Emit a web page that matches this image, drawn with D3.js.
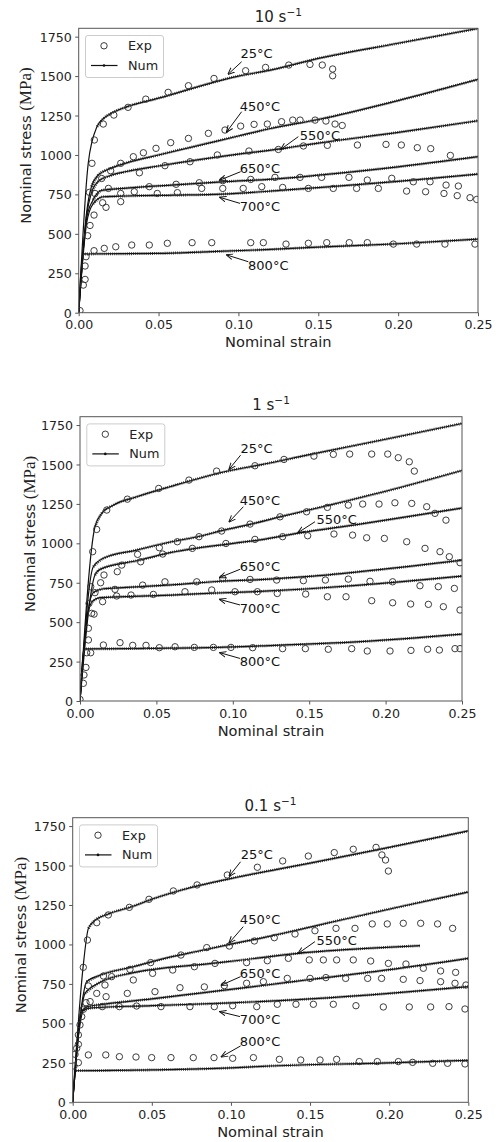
<!DOCTYPE html>
<html><head><meta charset="utf-8">
<script src="https://cdn.jsdelivr.net/npm/d3@7"></script>
<style>body{margin:0;background:#fff} svg{display:block}</style>
</head><body>
<script>
// ---------- categories / ticks ----------
const temps = ["25°C","450°C","550°C","650°C","700°C","800°C"];
const rateLabels = ["10","1","0.1"];
const strainTicks = [0,0.05,0.10,0.15,0.20,0.25];
const stressTicks = [0,250,500,750,1000,1250,1500,1750];

// ---------- 10 s^-1 : numerical ----------
const n10_25  = [[0,0],[0.006,950],[0.0115,1180],[0.016,1235],[0.02,1262],[0.03,1305],[0.05,1360],[0.1,1500],[0.12,1538],[0.15,1612],[0.2,1708],[0.25,1802]];
const n10_450 = [[0,0],[0.005,640],[0.008,800],[0.012,870],[0.02,915],[0.03,950],[0.05,1000],[0.1,1120],[0.12,1168],[0.15,1225],[0.2,1345],[0.25,1479]];
const n10_550 = [[0,0],[0.005,620],[0.008,760],[0.012,830],[0.02,870],[0.03,895],[0.05,930],[0.1,1005],[0.125,1037],[0.15,1075],[0.2,1143],[0.25,1217]];
const n10_650 = [[0,0],[0.005,600],[0.009,715],[0.0144,775],[0.03,790],[0.06,810],[0.09,830],[0.126,850],[0.15,872],[0.2,925],[0.25,989]];
const n10_700 = [[0,0],[0.005,570],[0.009,690],[0.0154,735],[0.03,740],[0.06,745],[0.09,752],[0.126,775],[0.15,793],[0.2,833],[0.25,879]];
const n10_800 = [[0,0],[0.0025,372],[0.05,376],[0.08,386],[0.12,401],[0.15,416],[0.2,437],[0.25,467]];
// ---------- 10 s^-1 : experimental ----------
const e10_25  = [[0.0083,947],[0.0098,1095],[0.0154,1196],[0.022,1253],[0.0309,1302],[0.042,1354],[0.056,1397],[0.0687,1439],[0.0847,1485],[0.1045,1534],[0.117,1555],[0.1315,1570],[0.1448,1574],[0.1525,1570],[0.159,1545],[0.159,1502]];
const e10_450 = [[0.0144,851],[0.02,900],[0.0263,947],[0.0342,989],[0.0405,1014],[0.0484,1042],[0.0576,1078],[0.0687,1105],[0.0812,1137],[0.0916,1158],[0.1014,1183],[0.1098,1194],[0.1181,1196],[0.127,1211],[0.134,1221],[0.1386,1221],[0.148,1221],[0.1548,1215],[0.1605,1196],[0.165,1187]];
const e10_550 = [[0.0186,788],[0.038,887],[0.054,932],[0.0697,957],[0.0868,1000],[0.1066,1025],[0.125,1035],[0.1407,1057],[0.1557,1061],[0.1745,1063],[0.1924,1067],[0.202,1063],[0.212,1046],[0.2204,1040],[0.2327,997]];
const e10_650 = [[0.0067,763],[0.0102,756],[0.0263,756],[0.0348,767],[0.0442,799],[0.061,814],[0.0755,824],[0.0902,837],[0.1077,845],[0.1229,858],[0.1386,858],[0.1521,858],[0.1692,858],[0.1807,841],[0.196,852],[0.2095,830],[0.22,830],[0.23,809],[0.2377,803]];
const e10_700 = [[0.0056,488],[0.0071,553],[0.0096,619],[0.015,697],[0.0171,668],[0.0263,704],[0.0492,756],[0.0618,761],[0.077,788],[0.0902,788],[0.103,788],[0.1146,799],[0.1277,794],[0.1438,788],[0.1594,788],[0.174,788],[0.1876,788],[0.2053,771],[0.2172,767],[0.2287,756],[0.237,742],[0.245,729],[0.2492,718]];
const e10_800 = [[0.0008,13],[0.0029,175],[0.004,211],[0.004,296],[0.0046,355],[0.0096,393],[0.016,408],[0.0232,418],[0.0332,429],[0.0442,429],[0.0555,440],[0.071,444],[0.0833,444],[0.1077,444],[0.1156,444],[0.1298,435],[0.1438,440],[0.1553,444],[0.1694,444],[0.1807,444],[0.197,435],[0.2116,435],[0.2293,435],[0.2481,435]];
// label anchors: [textStrain, textStress, tailStrain, tailStress, headStrain, headStress]
const a10 = [[0.1114,1644,0.102,1591,0.0937,1513],[0.1135,1310,0.102,1274,0.0927,1147],[0.151,1126,0.1375,1116,0.1267,1037],[0.1135,915,0.1014,894,0.0885,841],[0.1135,672,0.101,693,0.0885,731],[0.1187,302,0.1062,323,0.0927,366]];

// ---------- 1 s^-1 : numerical ----------
const n1_25  = [[0,0],[0.0098,1105],[0.0142,1190],[0.0218,1242],[0.0371,1295],[0.0589,1359],[0.0977,1460],[0.1178,1497],[0.15,1562],[0.2,1660],[0.25,1760]];
const n1_450 = [[0,0],[0.0087,851],[0.0153,905],[0.0371,957],[0.06,1010],[0.0785,1045],[0.0927,1080],[0.1113,1120],[0.1309,1168],[0.1614,1238],[0.2,1330],[0.25,1462]];
const n1_550 = [[0,0],[0.0098,799],[0.0131,835],[0.0393,894],[0.0567,936],[0.1003,1000],[0.1178,1022],[0.1429,1065],[0.1832,1122],[0.25,1224]];
const n1_650 = [[0,0],[0.005,560],[0.009,690],[0.0153,712],[0.03,720],[0.06,737],[0.09,758],[0.1178,770],[0.15,790],[0.1832,820],[0.25,893]];
const n1_700 = [[0,0],[0.005,540],[0.008,630],[0.0131,655],[0.03,662],[0.06,672],[0.09,685],[0.1178,695],[0.15,712],[0.1832,735],[0.25,792]];
const n1_800 = [[0,0],[0.0025,330],[0.05,334],[0.09,340],[0.1178,349],[0.1832,376],[0.25,424]];
// ---------- 1 s^-1 : experimental ----------
const e1_25  = [[0.0083,947],[0.0109,1088],[0.0175,1211],[0.031,1280],[0.0515,1348],[0.0713,1401],[0.0894,1458],[0.1145,1492],[0.1335,1532],[0.1531,1553],[0.1658,1564],[0.1765,1566],[0.1909,1566],[0.2014,1566],[0.2083,1543],[0.2155,1517],[0.2188,1458]];
const e1_450 = [[0.0244,820],[0.0377,930],[0.0519,972],[0.0637,1010],[0.0779,1042],[0.0927,1078],[0.1113,1122],[0.1309,1168],[0.1483,1200],[0.1619,1228],[0.1756,1242],[0.185,1249],[0.1957,1249],[0.2061,1257],[0.2171,1253],[0.2269,1232],[0.2323,1190],[0.2395,1147]];
const e1_550 = [[0.0157,799],[0.0273,862],[0.0397,883],[0.0541,932],[0.0735,968],[0.0955,999],[0.1145,1025],[0.1326,1042],[0.149,1048],[0.1662,1059],[0.1784,1052],[0.1876,1035],[0.1992,1031],[0.2138,1010],[0.2258,968],[0.2356,947],[0.2417,915],[0.2487,877]];
const e1_650 = [[0.007,725],[0.0135,750],[0.0229,708],[0.041,735],[0.0556,756],[0.0764,756],[0.0934,778],[0.1113,771],[0.1287,767],[0.1462,763],[0.1606,767],[0.1756,773],[0.1898,759],[0.2046,756],[0.2225,731],[0.2345,725],[0.245,714]];
const e1_700 = [[0.0055,461],[0.0059,619],[0.0076,556],[0.0092,551],[0.0098,687],[0.0148,630],[0.024,666],[0.0334,672],[0.048,676],[0.0687,693],[0.0862,704],[0.1014,693],[0.1161,693],[0.1291,682],[0.1477,678],[0.1619,661],[0.1741,661],[0.1909,636],[0.2046,623],[0.2164,615],[0.228,613],[0.2378,598],[0.2487,577]];
const e1_800 = [[0,10],[0.0022,112],[0.0026,165],[0.0039,213],[0.0044,306],[0.0055,387],[0.007,306],[0.0153,355],[0.0262,370],[0.0345,353],[0.0432,353],[0.0519,338],[0.0622,344],[0.0748,340],[0.0873,340],[0.0988,340],[0.113,338],[0.1326,332],[0.1475,332],[0.1625,328],[0.1778,332],[0.188,317],[0.2029,317],[0.2166,321],[0.2275,328],[0.2352,323],[0.2454,332],[0.2487,332]];
const a1 = [[0.1156,1602,0.1051,1559,0.0977,1471],[0.1178,1274,0.1069,1232,0.0977,1137],[0.168,1152,0.1538,1137,0.1429,1069],[0.1178,856,0.1047,835,0.0916,784],[0.1178,587,0.1047,609,0.0916,644],[0.1178,249,0.1047,270,0.0916,306]];

// ---------- 0.1 s^-1 : numerical ----------
const n01_25  = [[0,0],[0.0065,850],[0.0099,1102],[0.0131,1144],[0.0225,1193],[0.0373,1239],[0.0499,1286],[0.0689,1345],[0.1005,1419],[0.15,1515],[0.2,1615],[0.25,1719]];
const n01_450 = [[0,0],[0.006,640],[0.0088,764],[0.0173,805],[0.0383,859],[0.0594,915],[0.0805,960],[0.1015,1005],[0.1184,1039],[0.1331,1071],[0.1647,1144],[0.2068,1239],[0.25,1332]];
const n01_550 = [[0,0],[0.006,620],[0.0078,690],[0.0162,754],[0.0383,821],[0.0594,853],[0.0805,872],[0.1015,895],[0.1426,944],[0.1858,975],[0.2195,992]];
const n01_650 = [[0,0],[0.005,560],[0.009,605],[0.02,622],[0.05,655],[0.0805,692],[0.12,740],[0.15,778],[0.2,840],[0.25,912]];
const n01_700 = [[0,0],[0.004,450],[0.007,585],[0.012,598],[0.05,612],[0.1,630],[0.15,655],[0.2,690],[0.25,733]];
const n01_800 = [[0,0],[0.002,200],[0.05,205],[0.1,218],[0.12,228],[0.2,250],[0.25,266]];
// ---------- 0.1 s^-1 : experimental ----------
const e01_25  = [[0.0067,855],[0.0093,1028],[0.0152,1138],[0.0225,1187],[0.0358,1235],[0.0482,1286],[0.0636,1339],[0.0786,1377],[0.0977,1440],[0.1167,1489],[0.1327,1529],[0.1489,1560],[0.1653,1582],[0.1773,1603],[0.1917,1615],[0.1954,1567],[0.1977,1535],[0.1995,1465]];
const e01_450 = [[0.0246,796],[0.0362,842],[0.0493,885],[0.0684,933],[0.0847,980],[0.099,990],[0.1148,1022],[0.1274,1043],[0.1405,1066],[0.1531,1087],[0.1664,1102],[0.1784,1102],[0.1893,1130],[0.1988,1130],[0.2089,1134],[0.2199,1134],[0.2306,1130],[0.2401,1102]];
const e01_550 = [[0.0194,800],[0.0383,775],[0.0505,817],[0.0632,838],[0.0769,859],[0.0899,880],[0.1099,885],[0.123,897],[0.1363,912],[0.1495,902],[0.1584,902],[0.1668,902],[0.1773,902],[0.1883,895],[0.1995,880],[0.2106,876],[0.2216,849],[0.2325,832],[0.242,823]];
const e01_650 = [[0.0099,737],[0.0204,743],[0.0211,669],[0.0345,690],[0.052,701],[0.0678,726],[0.0832,731],[0.0958,739],[0.1099,754],[0.1205,764],[0.1356,785],[0.15,785],[0.16,790],[0.1725,785],[0.1864,785],[0.1952,785],[0.2089,779],[0.2195,771],[0.2325,764],[0.2416,754],[0.2485,743]];
const e01_700 = [[0.0046,490],[0.0057,543],[0.0067,589],[0.0084,631],[0.011,638],[0.0152,690],[0.0187,606],[0.0295,606],[0.0404,610],[0.0558,606],[0.0741,606],[0.0895,606],[0.1011,612],[0.1163,606],[0.1293,621],[0.1411,621],[0.1521,621],[0.1647,621],[0.179,612],[0.1963,604],[0.2127,604],[0.2262,604],[0.2378,606],[0.2479,591]];
const e01_800 = [[0.0008,230],[0.0015,304],[0.0025,342],[0.0036,367],[0.0036,427],[0.0036,251],[0.0099,300],[0.0209,300],[0.0295,289],[0.04,287],[0.0499,283],[0.0621,283],[0.0762,283],[0.0893,283],[0.1011,279],[0.1142,283],[0.1306,272],[0.1441,268],[0.1563,268],[0.1668,272],[0.1811,258],[0.1925,258],[0.2058,258],[0.2148,253],[0.2275,247],[0.2369,247],[0.2479,243]];
const a01 = [[0.1163,1567,0.1061,1524,0.099,1434],[0.1184,1155,0.1078,1113,0.099,1011],[0.1668,1028,0.1531,1018,0.1426,944],[0.1184,817,0.1061,796,0.0941,743],[0.1184,522,0.1057,543,0.0931,574],[0.1184,384,0.1061,357,0.0941,289]];

// ---------- layout ----------
const W = 501, H = 1142;
const FONT = "'DejaVu Sans', sans-serif";
const panels = [
  {rate: rateLabels[0], num:[n10_25,n10_450,n10_550,n10_650,n10_700,n10_800], exp:[e10_25,e10_450,e10_550,e10_650,e10_700,e10_800], ann:a10,
   L:78.7, R:478, T:28.3, B:312.7, ylx:25},
  {rate: rateLabels[1], num:[n1_25,n1_450,n1_550,n1_650,n1_700,n1_800], exp:[e1_25,e1_450,e1_550,e1_650,e1_700,e1_800], ann:a1,
   L:80, R:462, T:416.7, B:701, ylx:29},
  {rate: rateLabels[2], num:[n01_25,n01_450,n01_550,n01_650,n01_700,n01_800], exp:[e01_25,e01_450,e01_550,e01_650,e01_700,e01_800], ann:a01,
   L:72.7, R:468.3, T:817.7, B:1102.3, ylx:20},
];

// first point after which the curve leaves the elastic (steep) branch
function kneeIndex(s) {
  for (let i = 1; i < s.length - 1; i++) {
    const slope = (s[i + 1][1] - s[i][1]) / (s[i + 1][0] - s[i][0]);
    if (slope < 20000) return i;
  }
  return 1;
}

const svg = d3.select("body").append("svg").attr("width", W).attr("height", H)
  .style("font-family", FONT);
const defs = svg.append("defs");
defs.append("marker").attr("id","ah").attr("viewBox","0 -4 8 8").attr("refX",7).attr("refY",0)
  .attr("markerWidth",7).attr("markerHeight",7).attr("markerUnits","userSpaceOnUse").attr("orient","auto")
  .append("path").attr("d","M0,-3.2L8,0L0,3.2").attr("fill","none").attr("stroke","#111").attr("stroke-width",1.1);

panels.forEach((p, pi) => {
  const x = d3.scaleLinear().domain([0, 0.25]).range([p.L, p.R]);
  const y = d3.scaleLinear().domain([0, 1803]).range([p.B, p.T]);
  const g = svg.append("g");
  const cid = "clip" + pi;
  defs.append("clipPath").attr("id", cid).append("rect")
    .attr("x", p.L).attr("y", p.T).attr("width", p.R - p.L).attr("height", p.B - p.T);

  // axes
  const ax = g.append("g").attr("transform", `translate(0,${p.B})`)
    .call(d3.axisBottom(x).tickValues(strainTicks).tickFormat(d3.format(".2f")).tickSize(3.5).tickPadding(4.3));
  const ay = g.append("g").attr("transform", `translate(${p.L},0)`)
    .call(d3.axisLeft(y).tickValues(stressTicks).tickFormat(d3.format("d")).tickSize(3.5).tickPadding(3.5));
  [ax, ay].forEach(a => {
    a.select(".domain").remove();
    a.selectAll("text").style("font-family", FONT).style("font-size", "12.6px").attr("fill", "#222");
    a.selectAll("line").attr("stroke", "#555");
  });
  ay.selectAll("text").attr("dy", "0.36em");

  const plot = g.append("g").attr("clip-path", `url(#${cid})`);
  const line = d3.line().x(d => x(d[0])).y(d => y(d[1])).curve(d3.curveMonotoneX);

  // numerical curves: thin line plus dense point markers after the knee
  p.num.forEach(s => {
    plot.append("path").attr("d", line(s)).attr("fill", "none").attr("stroke", "#111").attr("stroke-width", 1.2);
    plot.append("path").attr("d", line(s.slice(kneeIndex(s)))).attr("fill", "none").attr("stroke", "#1a1a1a")
      .attr("stroke-width", 2.8).attr("stroke-dasharray", "1,1.1").attr("opacity", 0.85);
  });
  // experimental points
  p.exp.forEach(s => {
    plot.selectAll(null).data(s).enter().append("circle")
      .attr("cx", d => x(d[0])).attr("cy", d => y(d[1])).attr("r", 3.2)
      .attr("fill", "none").attr("stroke", "#333").attr("stroke-width", 0.95);
  });

  // annotations
  p.ann.forEach((a, i) => {
    g.append("line").attr("x1", x(a[2])).attr("y1", y(a[3])).attr("x2", x(a[4])).attr("y2", y(a[5]))
      .attr("stroke", "#111").attr("stroke-width", 1).attr("marker-end", "url(#ah)");
    g.append("text").attr("x", x(a[0])).attr("y", y(a[1])).attr("text-anchor", "middle")
      .attr("dominant-baseline", "central").style("font-size", "13px").attr("fill", "#111").text(temps[i]);
  });

  // frame
  g.append("rect").attr("x", p.L).attr("y", p.T).attr("width", p.R - p.L).attr("height", p.B - p.T)
    .attr("fill", "none").attr("stroke", "#555").attr("stroke-width", 1);

  // title
  const t = g.append("text").attr("x", (p.L + p.R) / 2).attr("y", p.T - 6.5).attr("text-anchor", "middle")
    .style("font-size", "15px").attr("fill", "#222");
  t.append("tspan").text(p.rate + " s");
  t.append("tspan").attr("dy", -6).style("font-size", "10.5px").text("\u22121");

  // axis labels
  g.append("text").attr("x", (p.L + p.R) / 2).attr("y", p.B + 29).attr("text-anchor", "middle")
    .attr("dominant-baseline", "central").style("font-size", "14.6px").attr("fill", "#222").text("Nominal strain");
  const yl = g.append("text").attr("transform", `translate(${p.ylx},${(p.T + p.B) / 2 - 25}) rotate(-90)`)
    .attr("text-anchor", "middle").attr("dominant-baseline", "central").attr("fill", "#222");
  yl.append("tspan").style("font-size", "14.6px").text("Nominal stress ");
  yl.append("tspan").style("font-family", "'Liberation Serif', serif").style("font-size", "17px").text("(MPa)");

  // legend
  const lx = p.L + 6.8, ly = p.T + 7.2;
  const lg = g.append("g");
  lg.append("rect").attr("x", lx).attr("y", ly).attr("width", 78).attr("height", 42).attr("rx", 2.5)
    .attr("fill", "#fff").attr("stroke", "#ccc").attr("stroke-width", 1);
  lg.append("circle").attr("cx", lx + 18.5).attr("cy", ly + 10.3).attr("r", 3.2).attr("fill", "none")
    .attr("stroke", "#333").attr("stroke-width", 0.95);
  lg.append("line").attr("x1", lx + 5.5).attr("x2", lx + 32).attr("y1", ly + 30).attr("y2", ly + 30)
    .attr("stroke", "#111").attr("stroke-width", 1.2);
  lg.append("circle").attr("cx", lx + 18.5).attr("cy", ly + 30).attr("r", 1.3).attr("fill", "#111");
  lg.append("text").attr("x", lx + 42.5).attr("y", ly + 10.3).attr("dominant-baseline", "central")
    .style("font-size", "12.8px").attr("fill", "#222").text("Exp");
  lg.append("text").attr("x", lx + 42.5).attr("y", ly + 30).attr("dominant-baseline", "central")
    .style("font-size", "12.8px").attr("fill", "#222").text("Num");
});
</script>
</body></html>
